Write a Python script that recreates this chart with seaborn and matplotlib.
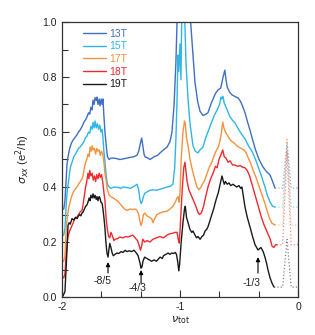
import numpy as np
import pandas as pd
import matplotlib
matplotlib.use('Agg')
import matplotlib.pyplot as plt
import seaborn as sns
from matplotlib.ticker import MultipleLocator, FixedLocator

# field labels and line colours
fields = ['13T', '15T', '17T', '18T', '19T']
colors = ['#3f6fc1', '#2fb6e6', '#f7913d', '#ee2a2e', '#1a1a1a']

# sigma_xx traces (nu_tot, sigma_xx in e^2/h)
nu_13 = [-2.0, -1.985, -1.975, -1.966, -1.958, -1.949, -1.935, -1.92, -1.907, -1.89, -1.873, -1.86, -1.847,
         -1.83, -1.815, -1.8, -1.788, -1.775, -1.765, -1.755, -1.745, -1.737, -1.728, -1.72, -1.71, -1.703,
         -1.695, -1.685, -1.678, -1.668, -1.66, -1.653, -1.645, -1.636, -1.625, -1.615, -1.6, -1.585, -1.56,
         -1.535, -1.51, -1.483, -1.45, -1.42, -1.39, -1.364, -1.35, -1.335, -1.325, -1.315, -1.305, -1.297,
         -1.27, -1.254, -1.22, -1.19, -1.169, -1.14, -1.11, -1.085, -1.068, -1.05, -1.035, -1.025, -1.015,
         -0.93, -0.91, -0.89, -0.873, -0.85, -0.83, -0.805, -0.78, -0.763, -0.735, -0.7, -0.678, -0.655,
         -0.635, -0.62, -0.61, -0.6, -0.58, -0.559, -0.53, -0.508, -0.485, -0.466, -0.449, -0.43, -0.407,
         -0.39, -0.36, -0.33, -0.297, -0.265, -0.237, -0.215, -0.195]
sig_13 = [0.32, 0.32, 0.35, 0.42, 0.48, 0.51, 0.54, 0.56, 0.57, 0.58, 0.59, 0.6, 0.607,
          0.62, 0.635, 0.645, 0.655, 0.67, 0.665, 0.69, 0.68, 0.716, 0.7, 0.725, 0.715, 0.727,
          0.7, 0.72, 0.695, 0.72, 0.7, 0.72, 0.66, 0.6, 0.55, 0.51, 0.5, 0.505, 0.505,
          0.503, 0.5, 0.502, 0.505, 0.508, 0.51, 0.516, 0.53, 0.56, 0.578, 0.55, 0.52, 0.51,
          0.505, 0.5, 0.51, 0.515, 0.524, 0.535, 0.545, 0.565, 0.6, 0.7, 0.85, 1.0, 1.3,
          1.3, 1.0, 0.88, 0.78, 0.71, 0.675, 0.66, 0.665, 0.67, 0.705, 0.74, 0.753, 0.76,
          0.8, 0.825, 0.79, 0.764, 0.745, 0.735, 0.728, 0.724, 0.71, 0.69, 0.67, 0.64, 0.607,
          0.58, 0.535, 0.5, 0.473, 0.455, 0.444, 0.42, 0.396]

nu_15 = [-2.0, -1.985, -1.975, -1.965, -1.955, -1.945, -1.93, -1.915, -1.9, -1.885, -1.873, -1.86, -1.847,
         -1.83, -1.815, -1.8, -1.788, -1.775, -1.765, -1.755, -1.745, -1.737, -1.728, -1.72, -1.71, -1.7,
         -1.69, -1.68, -1.67, -1.66, -1.653, -1.645, -1.636, -1.625, -1.615, -1.6, -1.585, -1.57, -1.551,
         -1.52, -1.5, -1.483, -1.45, -1.42, -1.4, -1.38, -1.364, -1.35, -1.34, -1.33, -1.322, -1.31,
         -1.297, -1.28, -1.254, -1.229, -1.2, -1.17, -1.144, -1.11, -1.085, -1.06, -1.045, -1.035, -1.025,
         -1.017, -1.01, -1.0, -0.992, -0.983, -0.966, -0.949, -0.932, -0.915, -0.89, -0.87, -0.847, -0.83,
         -0.805, -0.785, -0.746, -0.71, -0.686, -0.665, -0.653, -0.645, -0.636, -0.625, -0.61, -0.6, -0.576,
         -0.55, -0.534, -0.517, -0.49, -0.466, -0.449, -0.42, -0.39, -0.36, -0.339, -0.31, -0.28, -0.26,
         -0.237, -0.215, -0.195]
sig_15 = [0.225, 0.225, 0.25, 0.33, 0.39, 0.42, 0.47, 0.49, 0.51, 0.52, 0.53, 0.54, 0.545,
          0.555, 0.565, 0.58, 0.585, 0.6, 0.595, 0.62, 0.61, 0.635, 0.615, 0.64, 0.615, 0.63,
          0.61, 0.625, 0.6, 0.61, 0.58, 0.53, 0.49, 0.44, 0.41, 0.4, 0.395, 0.398, 0.4,
          0.398, 0.395, 0.4, 0.398, 0.395, 0.4, 0.405, 0.41, 0.39, 0.355, 0.34, 0.345, 0.365,
          0.378, 0.382, 0.388, 0.39, 0.388, 0.392, 0.395, 0.4, 0.402, 0.41, 0.47, 0.57, 0.72,
          0.88, 0.82, 0.92, 0.79, 1.1, 1.1, 0.85, 0.72, 0.63, 0.55, 0.53, 0.524, 0.535,
          0.545, 0.575, 0.62, 0.66, 0.68, 0.7, 0.727, 0.72, 0.73, 0.705, 0.69, 0.68, 0.655,
          0.64, 0.633, 0.62, 0.6, 0.585, 0.575, 0.55, 0.53, 0.5, 0.475, 0.44, 0.4, 0.37,
          0.345, 0.33, 0.327]

nu_17 = [-2.0, -1.985, -1.975, -1.965, -1.958, -1.945, -1.932, -1.915, -1.9, -1.873, -1.86, -1.845, -1.83,
         -1.822, -1.81, -1.8, -1.79, -1.78, -1.77, -1.762, -1.752, -1.745, -1.735, -1.725, -1.715, -1.705,
         -1.695, -1.685, -1.675, -1.665, -1.655, -1.645, -1.636, -1.625, -1.615, -1.6, -1.585, -1.565, -1.551,
         -1.53, -1.51, -1.49, -1.47, -1.45, -1.42, -1.4, -1.38, -1.365, -1.35, -1.34, -1.33, -1.322,
         -1.31, -1.297, -1.28, -1.26, -1.24, -1.229, -1.215, -1.195, -1.17, -1.14, -1.11, -1.085, -1.06,
         -1.04, -1.025, -1.015, -1.008, -1.0, -0.99, -0.975, -0.962, -0.955, -0.945, -0.93, -0.915, -0.9,
         -0.885, -0.87, -0.855, -0.84, -0.825, -0.81, -0.79, -0.77, -0.75, -0.73, -0.71, -0.69, -0.675,
         -0.66, -0.648, -0.638, -0.628, -0.615, -0.6, -0.58, -0.56, -0.54, -0.52, -0.5, -0.48, -0.46,
         -0.44, -0.42, -0.4, -0.38, -0.36, -0.34, -0.32, -0.3, -0.28, -0.26, -0.24, -0.22, -0.195]
sig_17 = [0.13, 0.13, 0.15, 0.24, 0.28, 0.32, 0.345, 0.37, 0.385, 0.4, 0.41, 0.42, 0.43,
          0.44, 0.47, 0.49, 0.5, 0.52, 0.51, 0.545, 0.53, 0.55, 0.535, 0.54, 0.52, 0.54,
          0.53, 0.535, 0.515, 0.53, 0.52, 0.49, 0.45, 0.42, 0.39, 0.37, 0.365, 0.36, 0.355,
          0.35, 0.34, 0.33, 0.32, 0.315, 0.32, 0.318, 0.32, 0.315, 0.3, 0.275, 0.26, 0.27,
          0.3, 0.305, 0.295, 0.29, 0.285, 0.27, 0.285, 0.3, 0.305, 0.31, 0.312, 0.32, 0.33,
          0.345, 0.36, 0.365, 0.345, 0.38, 0.5, 0.6, 0.64, 0.63, 0.58, 0.545, 0.5, 0.47,
          0.445, 0.42, 0.4, 0.39, 0.398, 0.41, 0.425, 0.45, 0.475, 0.49, 0.515, 0.535, 0.545,
          0.57, 0.6, 0.636, 0.615, 0.6, 0.59, 0.575, 0.565, 0.56, 0.55, 0.545, 0.54, 0.535,
          0.525, 0.505, 0.485, 0.46, 0.44, 0.415, 0.39, 0.365, 0.34, 0.31, 0.285, 0.268, 0.262]

nu_18 = [-2.0, -1.985, -1.975, -1.965, -1.955, -1.949, -1.935, -1.92, -1.905, -1.89, -1.873, -1.86, -1.845,
         -1.83, -1.82, -1.81, -1.8, -1.79, -1.78, -1.772, -1.765, -1.755, -1.745, -1.735, -1.725, -1.715,
         -1.705, -1.695, -1.685, -1.675, -1.665, -1.655, -1.645, -1.636, -1.625, -1.615, -1.605, -1.595, -1.585,
         -1.575, -1.56, -1.55, -1.53, -1.51, -1.483, -1.46, -1.44, -1.42, -1.4, -1.38, -1.36, -1.345,
         -1.335, -1.325, -1.315, -1.3, -1.28, -1.254, -1.23, -1.2, -1.17, -1.14, -1.11, -1.085, -1.06,
         -1.04, -1.025, -1.015, -1.006, -0.995, -0.98, -0.968, -0.958, -0.95, -0.94, -0.925, -0.91, -0.895,
         -0.88, -0.865, -0.85, -0.835, -0.82, -0.8, -0.785, -0.763, -0.74, -0.72, -0.7, -0.685, -0.67,
         -0.655, -0.638, -0.625, -0.61, -0.593, -0.575, -0.555, -0.535, -0.51, -0.49, -0.47, -0.45, -0.43,
         -0.41, -0.39, -0.37, -0.35, -0.33, -0.31, -0.29, -0.27, -0.25, -0.235, -0.22, -0.205, -0.19, -0.178]
sig_18 = [0.07, 0.07, 0.085, 0.15, 0.2, 0.22, 0.24, 0.255, 0.27, 0.285, 0.29, 0.3, 0.31,
          0.315, 0.34, 0.37, 0.4, 0.42, 0.45, 0.43, 0.46, 0.44, 0.45, 0.425, 0.44, 0.42,
          0.445, 0.43, 0.45, 0.435, 0.445, 0.42, 0.38, 0.35, 0.28, 0.245, 0.22, 0.215, 0.235,
          0.225, 0.205, 0.21, 0.212, 0.218, 0.215, 0.22, 0.218, 0.222, 0.225, 0.215, 0.205, 0.185,
          0.17, 0.185, 0.21, 0.2, 0.205, 0.2, 0.21, 0.215, 0.22, 0.215, 0.225, 0.23, 0.232,
          0.235, 0.235, 0.21, 0.196, 0.28, 0.4, 0.47, 0.49, 0.46, 0.42, 0.39, 0.375, 0.36,
          0.345, 0.33, 0.31, 0.3, 0.305, 0.33, 0.36, 0.4, 0.43, 0.45, 0.475, 0.47, 0.5,
          0.515, 0.535, 0.51, 0.505, 0.49, 0.495, 0.48, 0.48, 0.475, 0.478, 0.472, 0.47, 0.46,
          0.44, 0.41, 0.38, 0.35, 0.32, 0.29, 0.265, 0.245, 0.225, 0.21, 0.185, 0.18, 0.19, 0.19]

nu_19 = [-2.0, -1.99, -1.975, -1.96, -1.949, -1.94, -1.93, -1.915, -1.9, -1.885, -1.873, -1.86, -1.85,
         -1.84, -1.831, -1.82, -1.81, -1.8, -1.788, -1.78, -1.77, -1.763, -1.755, -1.745, -1.737, -1.728,
         -1.72, -1.71, -1.703, -1.695, -1.685, -1.678, -1.67, -1.66, -1.653, -1.645, -1.636, -1.628, -1.619,
         -1.61, -1.603, -1.595, -1.585, -1.575, -1.565, -1.551, -1.535, -1.52, -1.5, -1.483, -1.465, -1.449,
         -1.43, -1.41, -1.39, -1.37, -1.355, -1.34, -1.33, -1.322, -1.314, -1.3, -1.28, -1.26, -1.24,
         -1.22, -1.2, -1.18, -1.169, -1.15, -1.14, -1.12, -1.1, -1.085, -1.07, -1.055, -1.04, -1.03,
         -1.02, -1.01, -1.003, -0.99, -0.975, -0.962, -0.955, -0.945, -0.932, -0.915, -0.9, -0.89, -0.873,
         -0.86, -0.847, -0.83, -0.814, -0.8, -0.788, -0.775, -0.763, -0.745, -0.73, -0.715, -0.703, -0.69,
         -0.675, -0.66, -0.644, -0.635, -0.625, -0.615, -0.6, -0.585, -0.57, -0.551, -0.535, -0.52, -0.5,
         -0.485, -0.475, -0.449, -0.43, -0.407, -0.385, -0.364, -0.339, -0.314, -0.295, -0.28, -0.265,
         -0.254, -0.237, -0.22, -0.203]
sig_19 = [0.0, 0.005, 0.02, 0.15, 0.26, 0.27, 0.265, 0.285, 0.28, 0.29, 0.285, 0.295, 0.3,
          0.295, 0.305, 0.31, 0.32, 0.33, 0.335, 0.345, 0.36, 0.35, 0.37, 0.36, 0.375, 0.36,
          0.37, 0.355, 0.365, 0.35, 0.365, 0.36, 0.345, 0.34, 0.32, 0.29, 0.25, 0.2, 0.16,
          0.145, 0.17, 0.195, 0.18, 0.16, 0.15, 0.155, 0.16, 0.158, 0.165, 0.162, 0.17, 0.165,
          0.168, 0.165, 0.17, 0.16, 0.15, 0.125, 0.105, 0.11, 0.13, 0.145, 0.14, 0.135, 0.13,
          0.135, 0.13, 0.14, 0.145, 0.14, 0.15, 0.155, 0.16, 0.155, 0.16, 0.158, 0.162, 0.155,
          0.13, 0.095, 0.12, 0.2, 0.27, 0.32, 0.33, 0.29, 0.27, 0.245, 0.235, 0.24, 0.225,
          0.215, 0.22, 0.21, 0.22, 0.225, 0.24, 0.245, 0.255, 0.28, 0.3, 0.32, 0.34, 0.36,
          0.38, 0.41, 0.44, 0.425, 0.41, 0.42, 0.41, 0.415, 0.405, 0.41, 0.405, 0.4, 0.405,
          0.395, 0.4, 0.327, 0.29, 0.255, 0.22, 0.19, 0.171, 0.18, 0.165, 0.145, 0.12,
          0.098, 0.07, 0.05, 0.036]

traces_nu = [nu_13, nu_15, nu_17, nu_18, nu_19]
traces_sig = [sig_13, sig_15, sig_17, sig_18, sig_19]

# dotted tail near nu = 0 (baseline, spike height)
tail_nu = [-0.13, -0.093, -0.058, 0.0]
tail_peak = [0.565, 0.55, 0.578, 0.53, 0.21]

# arrow annotations: label, arrow x, head y, tail y, label x, label y
marks = ['-8/5', '-4/3', '-1/3']
mark_x = [-1.61, -1.33, -0.339]
mark_head = [0.127, 0.098, 0.145]
mark_tail = [0.087, 0.05, 0.087]
mark_lx = [-1.655, -1.36, -0.394]
mark_ly = [0.06, 0.033, 0.05]

sns.set_theme(style='ticks')
plt.rcParams['font.family'] = ['Liberation Sans', 'DejaVu Sans']
plt.rcParams['axes.unicode_minus'] = False
plt.rcParams['mathtext.fontset'] = 'dejavusans'

fig = plt.figure(figsize=(3.15, 3.35), dpi=100)
ax = fig.add_axes([62 / 315, 38 / 335, 236 / 315, 275 / 335])

for lab, col, xs, ys, pk in zip(fields, colors, traces_nu, traces_sig, tail_peak):
    sns.lineplot(x=xs, y=ys, color=col, lw=1.0, ax=ax, label=lab, sort=False)
    base = ys[-1]
    tx = [xs[-1]] + tail_nu
    ty = [base, base, pk, base, base]
    sns.lineplot(x=tx, y=ty, color=col, lw=0.9, ls=':', alpha=0.55, ax=ax, sort=False)

for m, x, yh, yt, lx, ly in zip(marks, mark_x, mark_head, mark_tail, mark_lx, mark_ly):
    ax.annotate('', xy=(x, yh), xytext=(x, yt),
                arrowprops=dict(arrowstyle='-|>', color='black', lw=0.8, mutation_scale=6,
                                shrinkA=0, shrinkB=0))
    ax.text(lx, ly, m, ha='center', va='center', fontsize=7.5, color='#222222')

ax.set_xlim(-2, 0)
ax.set_ylim(0, 1)
ax.xaxis.set_major_locator(FixedLocator([-2, -1, 0]))
ax.xaxis.set_minor_locator(FixedLocator([-5 / 3, -4 / 3, -2 / 3, -1 / 3]))
ax.set_xticklabels(['-2', '-1', '0'])
ax.yaxis.set_major_locator(MultipleLocator(0.2))
ax.yaxis.set_minor_locator(MultipleLocator(0.1))
ax.yaxis.set_major_formatter(matplotlib.ticker.FormatStrFormatter('%.1f'))
ax.tick_params(which='both', direction='in', top=False, right=False, labelsize=7.5,
               colors='#333333', labelcolor='#222222', width=0.8)
ax.tick_params(which='major', length=5)
ax.tick_params(which='minor', length=4)
for s in ax.spines.values():
    s.set_color('#333333')
    s.set_linewidth(0.9)

ax.set_xlabel(r'$\nu_{\rm tot}$', fontsize=8, color='#222222', labelpad=2)
ax.set_ylabel(r'$\sigma_{xx}$ (e$^2$/h)', fontsize=8, color='#222222', labelpad=8)

leg = ax.legend(loc='upper left', bbox_to_anchor=(0.06, 1.0), frameon=False, fontsize=7.5,
                handlelength=2.2, handletextpad=0.3, labelspacing=0.25, borderaxespad=0.25,
                labelcolor='linecolor')

fig.savefig('out.png', dpi=100)
